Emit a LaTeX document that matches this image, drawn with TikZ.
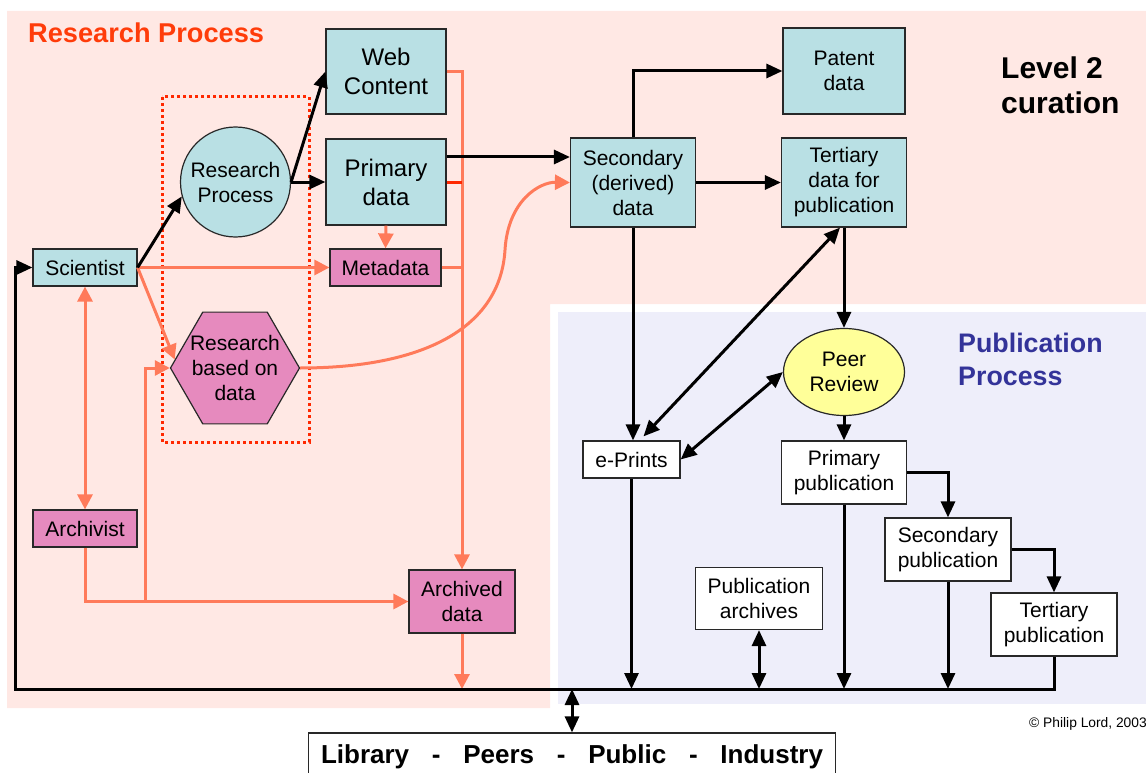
\documentclass[tikz,border=0pt]{standalone}
\usepackage{fontspec}
\setmainfont{Liberation Sans}
\usetikzlibrary{arrows.meta,shapes.geometric}
\definecolor{tealfill}{RGB}{185,224,228}
\definecolor{pinkfill}{RGB}{230,138,190}
\definecolor{pinkbg}{RGB}{255,232,228}
\definecolor{bluebg}{RGB}{238,238,250}
\definecolor{salc}{RGB}{255,122,90}
\definecolor{titlered}{RGB}{255,60,10}
\definecolor{dotred}{RGB}{255,40,0}
\definecolor{peeryellow}{RGB}{255,255,153}
\definecolor{pubblue}{RGB}{51,51,153}
\definecolor{edgec}{RGB}{40,40,40}
\begin{document}
\begin{tikzpicture}[x=1pt,y=-1pt,
  box/.style={draw=edgec,line width=1.2pt,inner sep=0pt,align=center,font=\fontsize{21}{25}\selectfont},
  tbox/.style={box,fill=tealfill},
  pbox/.style={box,fill=pinkfill},
  wbox/.style={box,fill=white},
  big/.style={font=\fontsize{24}{29}\selectfont},
  wh/.style 2 args={minimum width=#1pt,minimum height=#2pt},
  blk/.style={line width=3pt,-{Triangle[length=16pt,width=14pt]}},
  blkd/.style={line width=3pt,{Triangle[length=16pt,width=14pt]}-{Triangle[length=16pt,width=14pt]}},
  sal/.style={draw=salc,line width=3pt,-{Triangle[length=15pt,width=15pt]}},
  sald/.style={draw=salc,line width=3pt,{Triangle[length=15pt,width=15pt]}-{Triangle[length=15pt,width=15pt]}},
  sall/.style={draw=salc,line width=3pt},
]
\useasboundingbox (0,0) rectangle (1146,773);
% backgrounds
\fill[pinkbg] (7,11) -- (1146,11) -- (1146,304) -- (550,304) -- (550,708) -- (7,708) -- cycle;
\fill[bluebg] (558,312) rectangle (1146,704);
% dotted group
\draw[dotred,line width=3pt,dash pattern=on 3pt off 3pt] (162,97) rectangle (309,442);

% titles
\node[anchor=base west,inner sep=0pt,font=\fontsize{27.2}{31}\selectfont\bfseries,text=titlered] (t1) at (28,43) {Research Process};
\node[anchor=north west,inner sep=0pt,align=left,font=\fontsize{30}{35}\selectfont\bfseries] (t2) at (1001,57) {Level 2\\curation};
\node[anchor=north west,inner sep=0pt,align=left,font=\fontsize{26.8}{33}\selectfont\bfseries,text=pubblue] (t3) at (958,333) {Publication\\Process};
\node[anchor=base west,inner sep=0pt,font=\fontsize{13.8}{16}\selectfont] (cr) at (1029,727) {© Philip Lord, 2003};

% nodes
\node[tbox,big,wh={120}{85}] (web) at (386,71.5) {Web\\Content};
\node[tbox,big,wh={120}{86}] (prim) at (386,182) {Primary\\data};
\node[tbox,circle,minimum size=110pt] (rp) at (235.5,182) {Research\\Process};
\node[tbox,wh={104}{37}] (sci) at (85,267.5) {Scientist};
\node[pbox,wh={111}{37}] (meta) at (385.5,267.5) {Metadata};
\node[pbox,regular polygon,regular polygon sides=6,minimum size=129pt] (hex) at (235,368) {};
\node[align=center,inner sep=0pt,font=\fontsize{21}{25}\selectfont] (hext) at (hex.center) {Research\\based on\\data};
\node[pbox,wh={104}{37}] (arch) at (85,528.5) {Archivist};
\node[pbox,wh={106}{63}] (archd) at (462,601.5) {Archived\\data};
\node[tbox,wh={125}{89}] (sec) at (633,182.5) {Secondary\\(derived)\\data};
\node[tbox,wh={122}{86}] (patent) at (844,71) {Patent\\data};
\node[tbox,wh={125}{89}] (tert) at (844,182.5) {Tertiary\\data for\\publication};
\node[box,ellipse,fill=peeryellow,minimum width=121pt,minimum height=87pt] (peer) at (844,372) {Peer\\Review};
\node[wbox,wh={97}{37}] (ep) at (631.5,459.5) {e-Prints};
\node[wbox,wh={125}{63}] (ppub) at (844,472.5) {Primary\\publication};
\node[wbox,wh={126}{63}] (spub) at (948,549.5) {Secondary\\publication};
\node[wbox,wh={126}{63}] (tpub) at (1054,624.5) {Tertiary\\publication};
\node[wbox,wh={127}{62}] (parch) at (759,598.5) {Publication\\archives};
\node[box,fill=white,wh={527}{47},font=\fontsize{26}{30}\selectfont\bfseries] (lib) at (572,756.5) {\makebox[502pt][s]{Library - Peers - Public - Industry}};

\coordinate (busL) at (15,689);
\coordinate (br) at (145,601.5);

% salmon connectors
\draw[sal] (sci.east) -- (meta.west);
\draw[sal] (prim.south) -- (meta.north);
\draw[sal] (web.east) -| (archd.north);
\draw[sall] (meta.east) -- (meta.east -| archd.north);
\draw[draw=dotred,line width=3pt] (prim.east) -- (prim.east -| archd.north);
\draw[sal] (sci.east) -- (hex.172);
\draw[sald] (sci.south) -- (arch.north);
\draw[sal] (arch.south) |- (archd.west);
\draw[sal] (br) |- (hex.west);
\draw[sal] (hex.east) .. controls (420,368) and (500,330) .. (505,250) .. controls (508,200) and (540,182) .. (sec.west);
\draw[sal] (archd.south) -- (archd.south |- busL);

% black connectors
\draw[blk] (sci.east) -- (rp.195);
\draw[blk] (rp.east) -- (web.west);
\draw[blk] (rp.east) -- (prim.west);
\draw[blk] ([yshift=25pt]prim.east) -- ([yshift=25pt]prim.east -| sec.west);
\draw[blk] (sec.north) |- (patent.west);
\draw[blk] (sec.east) -- (tert.west);
\draw[blk] (sec.south) -- (sec.south |- ep.north);
\draw[blk] (tert.south) -- (peer.north);
\draw[blkd] ([xshift=-4pt]tert.south) -- ([xshift=12pt,yshift=4pt]ep.north);
\draw[blkd] (ep.east) -- (peer.west);
\draw[blk] (peer.south) -- (ppub.north);
\draw[blk] (ppub.east) -| (spub.north);
\draw[blk] (spub.east) -| (tpub.north);
\draw[blk] (ep.south) -- (ep.south |- busL);
\draw[blkd] (parch.south) -- (parch.south |- busL);
\draw[blk] (ppub.south) -- (ppub.south |- busL);
\draw[blk] (spub.south) -- (spub.south |- busL);
\draw[blk] (tpub.south) |- (busL) |- (sci.west);
\draw[blkd] (lib.north |- busL) -- (lib.north);
\end{tikzpicture}
\end{document}
